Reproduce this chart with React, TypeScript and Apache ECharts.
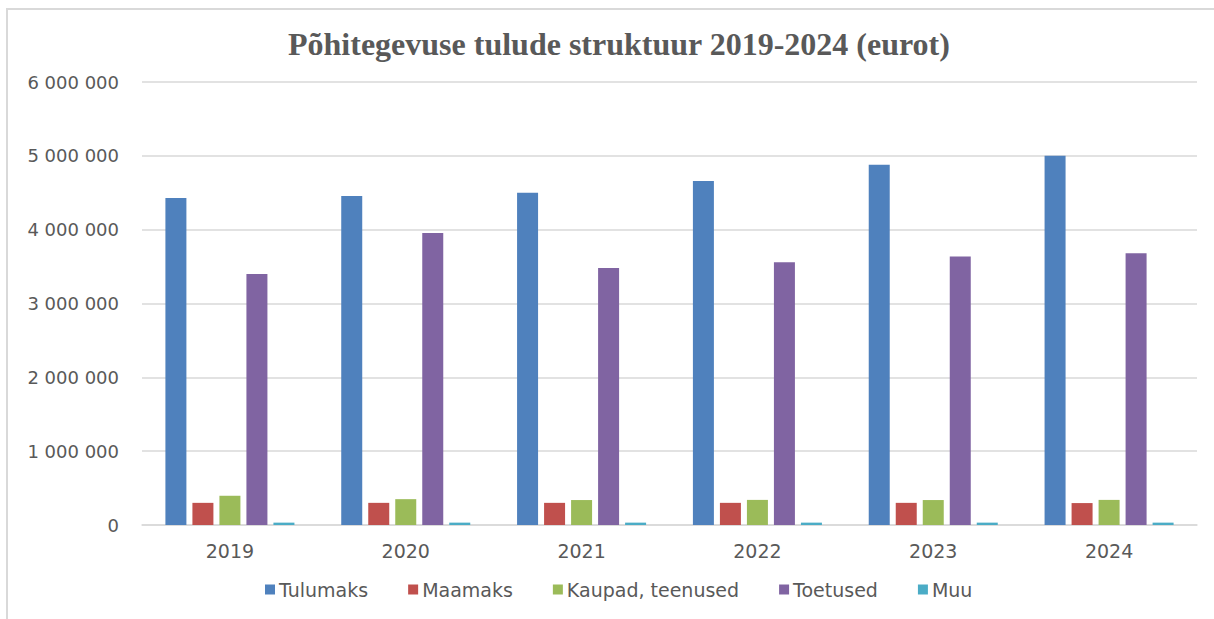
import React, { useEffect, useRef } from "react";
import * as echarts from "echarts";

const years = ["2019", "2020", "2021", "2022", "2023", "2024"];
const seriesNames = ["Tulumaks", "Maamaks", "Kaupad, teenused", "Toetused", "Muu"];
const tulumaks = [4430000, 4455000, 4500000, 4660000, 4880000, 5000000];
const maamaks = [300000, 300000, 300000, 300000, 300000, 297000];
const kaupad = [396000, 350000, 338000, 340000, 338000, 340000];
const toetused = [3400000, 3955000, 3480000, 3560000, 3635000, 3680000];
const muu = [32000, 32000, 32000, 32000, 32000, 32000];
const colors = ["#4F81BD", "#C0504D", "#9BBB59", "#8064A2", "#4BACC6"];
const titleText = "Põhitegevuse tulude struktuur 2019-2024 (eurot)";

const fmt = (v: number) => String(v).replace(/\B(?=(\d{3})+(?!\d))/g, " ");

export default function App() {
  const ref = useRef<HTMLDivElement>(null);
  useEffect(() => {
    if (!ref.current) return;
    const chart = echarts.init(ref.current, null, { renderer: "svg" });
    const all = [tulumaks, maamaks, kaupad, toetused, muu];
    chart.setOption({
      animation: false,
      backgroundColor: "#ffffff",
      title: {
        text: titleText,
        left: 283,
        top: 23,
        textStyle: {
          fontFamily: "Liberation Serif",
          fontWeight: "bold",
          fontSize: 32,
          color: "#595959",
        },
      },
      graphic: [
        {
          type: "rect",
          shape: { x: 7, y: 9, width: 1400, height: 800 },
          style: { fill: "none", stroke: "#d9d9d9", lineWidth: 2 },
          silent: true,
        },
      ],
      legend: {
        data: seriesNames,
        bottom: 15,
        left: 260,
        itemWidth: 10,
        itemHeight: 10,
        itemGap: 40,
        icon: "rect",
        textStyle: { fontFamily: "DejaVu Sans", fontSize: 19, color: "#595959", padding: [0, 0, 0, -1] },
      },
      grid: { left: 142, right: 17, top: 82, bottom: 94 },
      xAxis: {
        type: "category",
        data: years,
        axisLine: { lineStyle: { color: "#d9d9d9", width: 1.5 } },
        axisTick: { show: false },
        axisLabel: { fontFamily: "DejaVu Sans", fontSize: 19, color: "#595959", margin: 16 },
      },
      yAxis: {
        type: "value",
        min: 0,
        max: 6000000,
        interval: 1000000,
        axisLine: { show: false },
        axisTick: { show: false },
        splitLine: { lineStyle: { color: "#d9d9d9", width: 1.5 } },
        axisLabel: {
          fontFamily: "DejaVu Sans",
          fontSize: 18,
          color: "#595959",
          margin: 23,
          formatter: (v: number) => fmt(v),
        },
      },
      series: seriesNames.map((name, i) => ({
        name,
        type: "bar",
        data: all[i],
        barWidth: 21,
        barGap: "28.6%",
        itemStyle: { color: colors[i] },
      })),
    });
    return () => chart.dispose();
  }, []);
  return (
    <div
      ref={ref}
      style={{ position: "absolute", left: 0, top: 0, width: 1214, height: 619 }}
    />
  );
}
